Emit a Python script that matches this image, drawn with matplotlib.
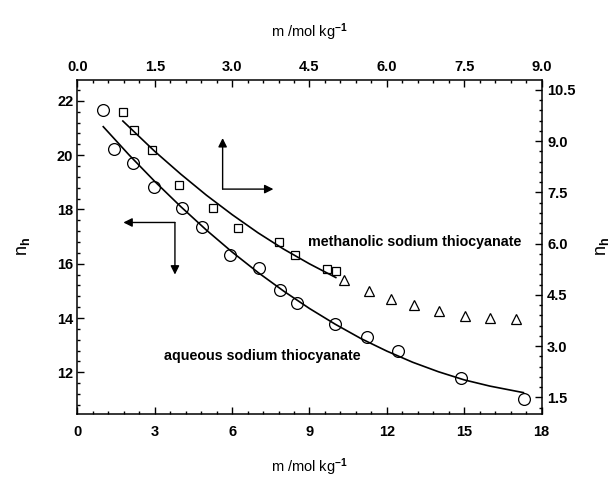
import matplotlib
matplotlib.use("Agg")
import matplotlib.pyplot as plt
from matplotlib.ticker import MultipleLocator, FormatStrFormatter

plt.rcParams["font.family"] = ["Liberation Sans", "DejaVu Sans"]
plt.rcParams["font.weight"] = "bold"
plt.rcParams["mathtext.fontset"] = "custom"
plt.rcParams["mathtext.rm"] = "Liberation Sans:bold"
plt.rcParams["mathtext.bf"] = "Liberation Sans:bold"
plt.rcParams["mathtext.default"] = "bf"

# aqueous NaSCN (bottom / left axes)
aq_m = [0.98, 1.43, 2.14, 2.96, 4.07, 4.84, 5.90, 7.05, 7.85, 8.53,
        10.0, 11.23, 12.44, 14.88, 17.33]
aq_nh = [21.67, 20.22, 19.71, 18.81, 18.07, 17.34, 16.33, 15.84, 15.03, 14.55,
         13.79, 13.31, 12.80, 11.79, 11.03]
aq_fit_m = [1.0, 2.0, 3.0, 4.0, 5.0, 6.0, 7.0, 8.0, 9.0, 10.0, 11.0, 12.0,
            13.0, 14.0, 15.0, 16.0, 17.3]
aq_fit_nh = [21.05, 20.01, 19.03, 18.11, 17.24, 16.43, 15.68, 14.99, 14.35,
             13.77, 13.24, 12.78, 12.37, 12.02, 11.72, 11.49, 11.25]

# methanolic NaSCN (top / right axes)
me_m = [0.877, 1.096, 1.445, 1.974, 2.634, 3.119, 3.91, 4.22, 4.84, 5.02]
me_nh = [9.865, 9.33, 8.735, 7.73, 7.03, 6.45, 6.05, 5.67, 5.26, 5.20]
me_tri_m = [5.17, 5.66, 6.09, 6.52, 7.02, 7.52, 8.01, 8.50]
me_tri_nh = [4.94, 4.63, 4.39, 4.21, 4.03, 3.89, 3.82, 3.79]
me_fit_m = [0.88, 1.5, 2.0, 2.5, 3.0, 3.5, 4.0, 4.5, 5.01]
me_fit_nh = [9.59, 8.70, 8.04, 7.42, 6.85, 6.32, 5.84, 5.41, 5.01]

fig = plt.figure(figsize=(6.15, 4.8), dpi=100)
pos = [0.126, 0.1385, 0.7545, 0.6948]
ax = fig.add_axes(pos)
axm = fig.add_axes(pos, frameon=False)

ax.plot(aq_m, aq_nh, "o", ms=8.5, mfc="none", mec="black", mew=0.9)
ax.plot(aq_fit_m, aq_fit_nh, "-", color="black", lw=1.2)

axm.plot(me_m, me_nh, "s", ms=6, mfc="none", mec="black", mew=0.9)
axm.plot(me_tri_m, me_tri_nh, "^", ms=6.5, mfc="none", mec="black", mew=0.9)
axm.plot(me_fit_m, me_fit_nh, "-", color="black", lw=1.2)

ax.set_xlim(0, 18)
ax.set_ylim(10.48, 22.77)
axm.set_xlim(0, 9)
axm.set_ylim(1.03, 10.79)

ax.xaxis.set_major_locator(MultipleLocator(3))
ax.xaxis.set_minor_locator(MultipleLocator(0.6))
ax.yaxis.set_major_locator(MultipleLocator(2))
ax.yaxis.set_minor_locator(MultipleLocator(0.4))
axm.xaxis.set_major_locator(MultipleLocator(1.5))
axm.xaxis.set_minor_locator(MultipleLocator(0.3))
axm.yaxis.set_major_locator(MultipleLocator(1.5))
axm.yaxis.set_minor_locator(MultipleLocator(0.3))
axm.xaxis.set_major_formatter(FormatStrFormatter("%.1f"))
axm.yaxis.set_major_formatter(FormatStrFormatter("%.1f"))

axm.xaxis.tick_top()
axm.yaxis.tick_right()
axm.xaxis.set_label_position("top")
axm.yaxis.set_label_position("right")

for s in ax.spines.values():
    s.set_linewidth(1.1)
ax.tick_params(which="both", direction="in", labelsize=10.5, width=1)
ax.tick_params(which="major", length=5)
ax.tick_params(which="minor", length=2.5)
ax.tick_params(axis="x", pad=8)
ax.tick_params(axis="y", pad=3)
axm.tick_params(which="both", direction="in", labelsize=10.5, width=1)
axm.tick_params(which="major", length=5)
axm.tick_params(which="minor", length=2.5)
axm.tick_params(axis="x", pad=4)
axm.tick_params(axis="y", pad=4)

ax.set_xlabel("m /mol kg$^{-1}$", fontsize=10.5, labelpad=13)
ax.set_ylabel("n$_\\mathbf{h}$", fontsize=13, labelpad=18)
axm.set_xlabel("m /mol kg$^{-1}$", fontsize=10.5, labelpad=17)
axm.set_ylabel("n$_\\mathbf{h}$", fontsize=13, labelpad=13)

# axis-assignment arrows
arr = dict(arrowstyle="-|>", color="black", lw=1, mutation_scale=13,
           shrinkA=0, shrinkB=0)
ax.annotate("", xy=(5.63, 20.63), xytext=(5.63, 18.75), arrowprops=arr)
ax.annotate("", xy=(7.60, 18.75), xytext=(5.63, 18.75), arrowprops=arr)
ax.annotate("", xy=(1.78, 17.52), xytext=(3.78, 17.52), arrowprops=arr)
ax.annotate("", xy=(3.78, 15.60), xytext=(3.78, 17.52), arrowprops=arr)

ax.text(8.94, 16.80, "methanolic sodium thiocyanate", fontsize=10.3,
        ha="left", va="center")
ax.text(11.0, 12.59, "aqueous sodium thiocyanate", fontsize=10.3,
        ha="right", va="center")

fig.savefig("out.png", dpi=100)
